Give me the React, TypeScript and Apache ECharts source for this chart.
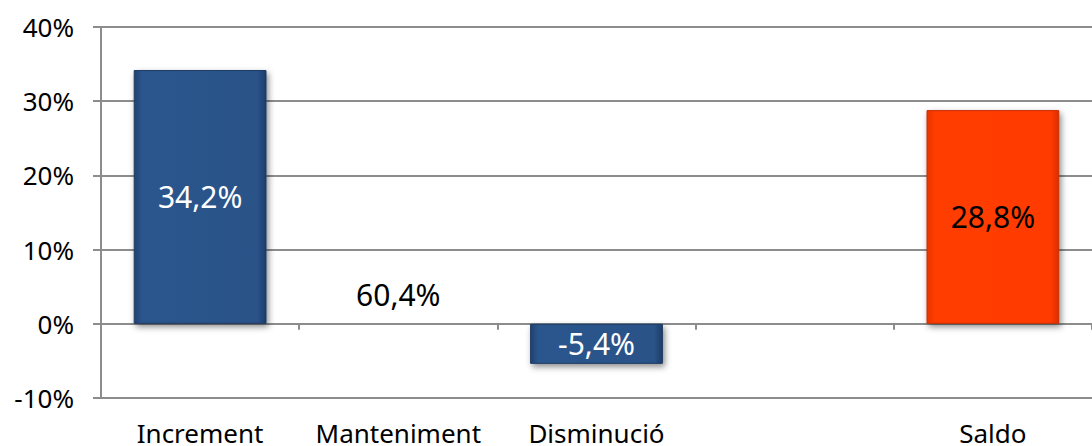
import React, { useEffect, useRef } from "react";
import * as echarts from "echarts";

const categories = ["Increment", "Manteniment", "Disminució", "", "Saldo"];
const barValues: (number | null)[] = [34.2, 0, -5.4, null, 28.8];
const labelTexts = ["34,2%", "60,4%", "-5,4%", "", "28,8%"];
const barColors = ["blue", "none", "blue", "none", "orange"];
const labelColors = ["#ffffff", "#000000", "#ffffff", "#000000", "#000000"];
const yTicks = { min: -10, max: 40, interval: 10 };

const FONT = "'Noto Sans', 'DejaVu Sans', sans-serif";

export default function App() {
  const ref = useRef<HTMLDivElement>(null);
  useEffect(() => {
    if (!ref.current) return;
    const chart = echarts.init(ref.current, null, { renderer: "svg" });
    const data = barValues.map((v, i) => {
      const kind = barColors[i];
      const isBlue = kind === "blue";
      const grad =
        kind === "none"
          ? "transparent"
          : new echarts.graphic.LinearGradient(0, 0, 1, 0, isBlue
              ? [
                  { offset: 0, color: "#1f4270" },
                  { offset: 0.06, color: "#2c568e" },
                  { offset: 0.94, color: "#2a5288" },
                  { offset: 1, color: "#1d3d68" },
                ]
              : [
                  { offset: 0, color: "#e83400" },
                  { offset: 0.06, color: "#ff3d05" },
                  { offset: 0.94, color: "#ff3a00" },
                  { offset: 1, color: "#d83000" },
                ]);
      return {
        value: v,
        itemStyle:
          kind === "none"
            ? { color: "transparent", borderWidth: 0 }
            : {
                color: grad,
                borderColor: isBlue ? "#1c3a63" : "#c82e00",
                borderWidth: 1,
                shadowBlur: 6,
                shadowOffsetX: 2,
                shadowOffsetY: 3,
                shadowColor: "rgba(0,0,0,0.45)",
              },
        label: {
          show: labelTexts[i] !== "",
          formatter: labelTexts[i],
          position: kind === "none" ? "top" : "inside",
          distance: 14,
          color: labelColors[i],
          fontSize: 30,
          fontFamily: FONT,
        },
      };
    });
    chart.setOption({
      animation: false,
      grid: { left: 101, right: -9, top: 27, bottom: 42, containLabel: false },
      xAxis: [
        {
          type: "category",
          data: categories,
          axisLine: { onZero: true, lineStyle: { color: "#8c8c8c", width: 2 } },
          axisTick: { show: true, length: 6, lineStyle: { color: "#8c8c8c", width: 2 } },
          axisLabel: { show: false },
        },
        {
          type: "category",
          data: categories,
          position: "bottom",
          axisLine: { show: false },
          axisTick: { show: false },
          axisLabel: {
            show: true,
            margin: 22,
            color: "#000",
            fontSize: 26,
            fontFamily: FONT,
            interval: 0,
          },
        },
      ],
      yAxis: {
        type: "value",
        min: yTicks.min,
        max: yTicks.max,
        interval: yTicks.interval,
        axisLine: { show: true, lineStyle: { color: "#8c8c8c", width: 2 } },
        axisTick: { show: true, inside: false, length: 8, lineStyle: { color: "#8c8c8c", width: 2 } },
        splitLine: { show: true, lineStyle: { color: "#8c8c8c", width: 2 } },
        axisLabel: {
          formatter: "{value}%",
          margin: 27,
          color: "#000",
          fontSize: 26,
          fontFamily: FONT,
        },
      },
      series: [
        {
          type: "bar",
          xAxisIndex: 0,
          data,
          barCategoryGap: "33%",
        },
      ],
    });
    return () => chart.dispose();
  }, []);
  return <div ref={ref} style={{ width: 1092, height: 446, position: "absolute", left: 0, top: 0 }} />;
}
